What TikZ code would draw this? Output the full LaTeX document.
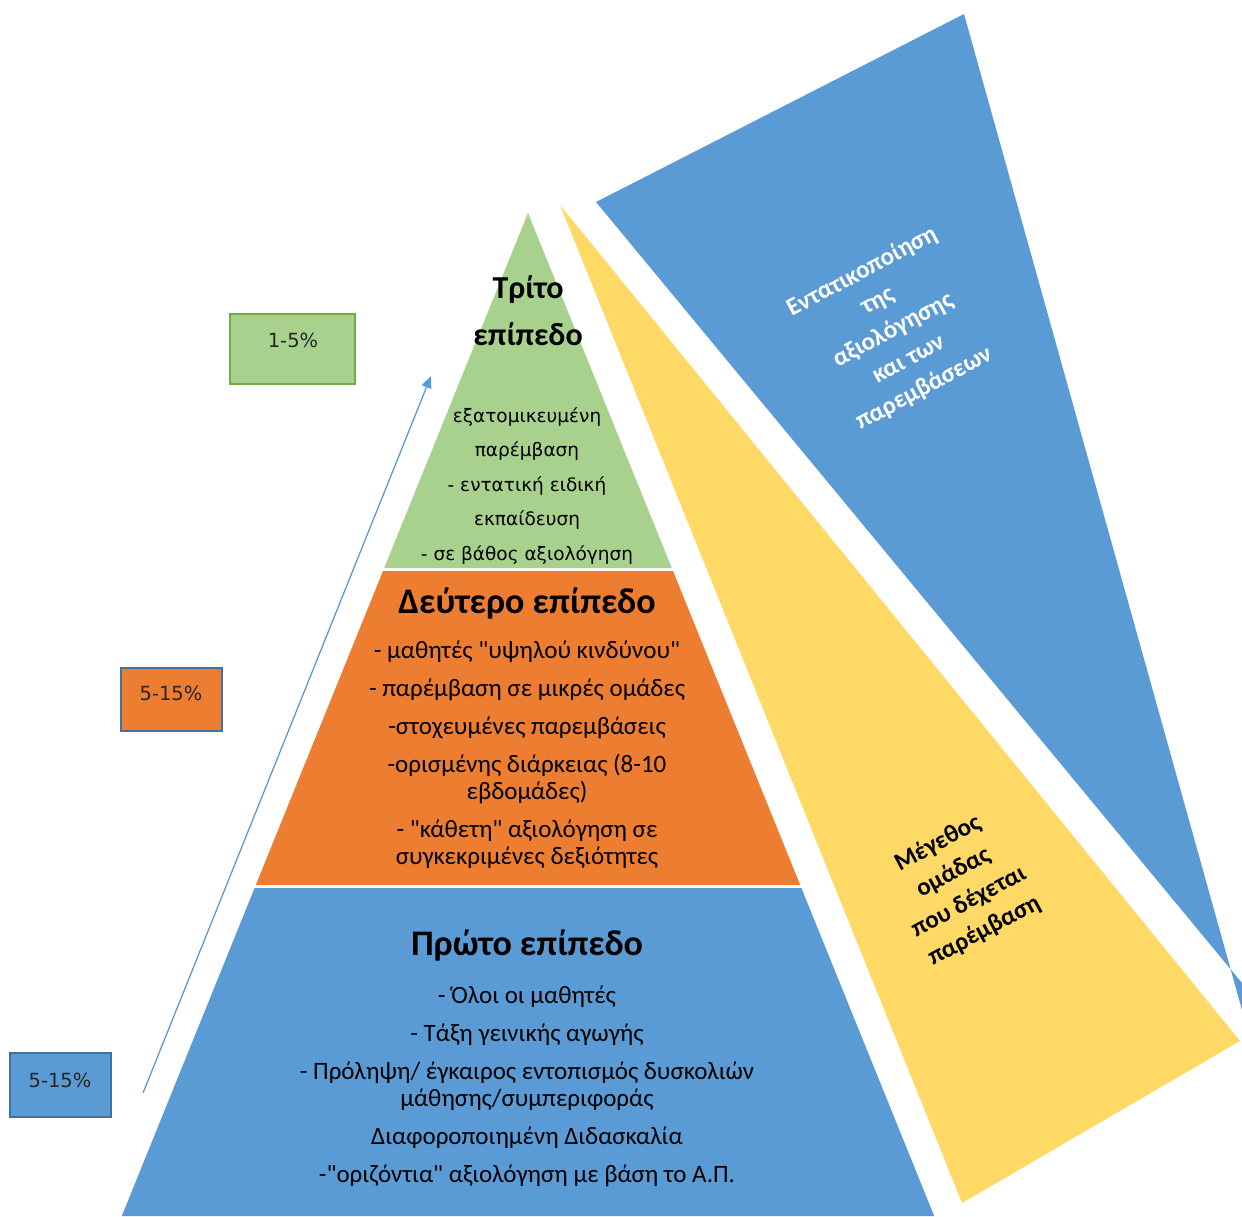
\documentclass[tikz,border=0pt]{standalone}
\usepackage{fontspec}
\setmainfont{Carlito}[Ligatures=TeXOff]
\newfontfamily\boxfont{DejaVu Sans}[Ligatures=TeXOff]
\usetikzlibrary{arrows.meta}

\definecolor{lvlblue}{HTML}{5B9BD5}
\definecolor{lvlorange}{HTML}{ED7D31}
\definecolor{lvlgreen}{HTML}{A9D18E}
\definecolor{lvlyellow}{HTML}{FFD966}
\definecolor{edgegreen}{HTML}{70AD47}
\definecolor{edgeblue}{HTML}{41719C}

\tikzset{
  pctbox/.style={draw=edgeblue, line width=1.2pt, inner sep=0pt},
  pcttext/.style={font=\boxfont\fontsize{19.5}{22}\selectfont, text=black!85},
  heading/.style={font=\bfseries\fontsize{36}{42}\selectfont, align=center},
  body/.style={font=\fontsize{25}{27}\selectfont, align=center},
  greenbody/.style={font=\boxfont\fontsize{18.5}{34.5}\selectfont, align=center},
  sidetext/.style={font=\bfseries\fontsize{25}{33}\selectfont, align=center, rotate=28},
}

\begin{document}
\begin{tikzpicture}[x=1pt,y=-1pt]
\useasboundingbox (0,0) rectangle (1242,1216);

% side wedges
\fill[lvlblue] (596,202) -- (964,14) -- (1242,1010) -- (1242,983) -- cycle;
\fill[lvlyellow] (560,205) -- (1240,1041) -- (962,1203) -- cycle;

% pyramid levels
\fill[lvlgreen] (528,213) -- (671.8,568) -- (384.2,568) -- cycle;
\fill[lvlorange] (383,571) -- (673,571) -- (800.2,885) -- (255.8,885) -- cycle;
\fill[lvlblue] (254.6,888) -- (801.4,888) -- (934.2,1216) -- (121.8,1216) -- cycle;

% level texts
\node[heading, font=\bfseries\fontsize{32}{47}\selectfont] (t3) at (528,311) {Τρίτο\\επίπεδο};
\node[greenbody] (b3) at (527,486) {εξατομικευμένη\\παρέμβαση\\- εντατική ειδική\\εκπαίδευση\\- σε βάθος αξιολόγηση};

\node[heading] (t2) at (527,603) {Δεύτερο επίπεδο};
\node[body] (b2) at (527,755) {- μαθητές "υψηλού κινδύνου"\\[11pt]
  - παρέμβαση σε μικρές ομάδες\\[11pt]
  -στοχευμένες παρεμβάσεις\\[11pt]
  -ορισμένης διάρκειας (8-10\\εβδομάδες)\\[11pt]
  - "κάθετη" αξιολόγηση σε\\συγκεκριμένες δεξιότητες};

\node[heading] (t1) at (527,945) {Πρώτο επίπεδο};
\node[body] (b1) at (527,1086) {- Όλοι οι μαθητές\\[11pt]
  - Τάξη γεινικής αγωγής\\[11pt]
  - Πρόληψη/ έγκαιρος εντοπισμός δυσκολιών\\μάθησης/συμπεριφοράς\\[11pt]
  Διαφοροποιημένη Διδασκαλία\\[11pt]
  -"οριζόντια" αξιολόγηση με βάση το Α.Π.};

% rotated captions
\node[sidetext, text=white] (wedge) at (893,330) {Εντατικοποίηση\\της\\αξιολόγησης\\και των\\παρεμβάσεων};
\node[sidetext, text=black] (group) at (961,887) {Μέγεθος\\ομάδας\\που δέχεται\\παρέμβαση};

% percentage boxes
\node[pctbox, draw=edgegreen, fill=lvlgreen, minimum width=125, minimum height=70] (p3) at (292.5,349) {};
\node[pcttext] (p3t) at (293,340) {1-5\%};
\node[pctbox, fill=lvlorange, minimum width=101, minimum height=63] (p2) at (171.5,699.5) {};
\node[pcttext] (p2t) at (171,693) {5-15\%};
\node[pctbox, fill=lvlblue, minimum width=101, minimum height=64] (p1) at (60.5,1085) {};
\node[pcttext] (p1t) at (60,1080) {5-15\%};

% growth arrow
\coordinate (atail) at (143,1093);
\coordinate (ahead) at (431,376);
\draw[lvlblue, line width=1.3pt, -{Triangle[length=12pt,width=10pt]}] (atail) -- (ahead);
\end{tikzpicture}
\end{document}
